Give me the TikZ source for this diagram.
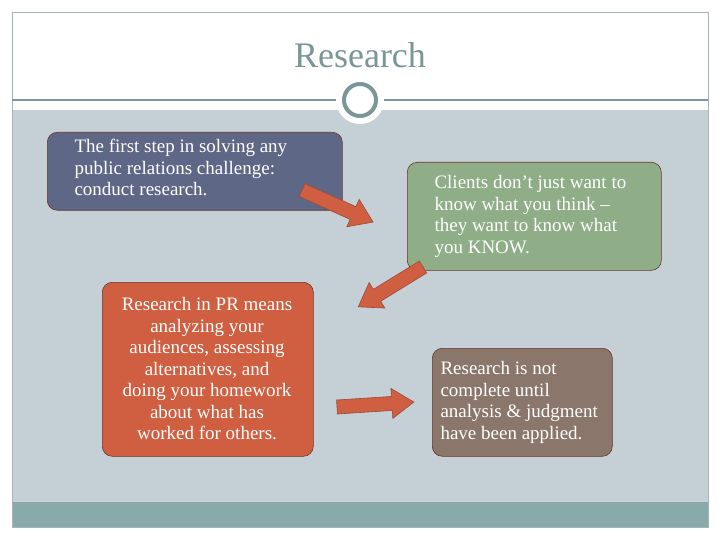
\documentclass[tikz,border=0pt]{standalone}
\usepackage{fontspec}
\setmainfont{Liberation Serif}
\definecolor{bodyc}{HTML}{C5CFD6}
\definecolor{stripc}{HTML}{8AA9AB}
\definecolor{ringc}{HTML}{7B9696}
\definecolor{bluec}{HTML}{5F6786}
\definecolor{greenc}{HTML}{8FAE88}
\definecolor{orangec}{HTML}{CF5F40}
\definecolor{brownc}{HTML}{8A766A}
\definecolor{edgec}{HTML}{9A4A3A}
\tikzset{
 box/.style={draw=edgec!70!black, line width=0.6pt, rounded corners=10pt, anchor=north west, inner sep=0pt},
 txt/.style={text=white, font=\fontsize{19}{21.5}\selectfont},
 barrow/.pic={\draw[fill=orangec, draw=edgec, line width=0.6pt] (0,-7) -- (#1-22,-7) -- (#1-22,-15) -- (#1,0) -- (#1-22,15) -- (#1-22,7) -- (0,7) -- cycle;}
}
\begin{document}
\begin{tikzpicture}[x=1pt,y=-1pt]
\useasboundingbox (0,0) rectangle (720,540);
\fill[white] (0,0) rectangle (720,540);
\fill[bodyc] (12,110) rectangle (708,502);
\fill[stripc] (12,502) rectangle (708,527);
\draw[ringc!70, line width=0.6pt] (12,12) rectangle (708,527);
\draw[ringc, line width=1.2pt] (12,100) -- (708,100);
\fill[white] (360,100) circle (24);
\draw[ringc, line width=4pt] (360,100) circle (16);
\node[text=ringc, font=\fontsize{36}{40}\selectfont] (title) at (360,55) {Research};
\node[box, fill=bluec, minimum width=295pt, minimum height=78pt] (b1) at (47,132) {};
\node[txt, anchor=north west, align=left] (t1) at (71,136) {The first step in solving any\\public relations challenge:\\conduct research.};
\node[box, fill=greenc, minimum width=254pt, minimum height=108pt] (b2) at (407,162) {};
\node[txt, anchor=north west, align=left] (t2) at (431,172) {Clients don’t just want to\\know what you think –\\they want to know what\\you KNOW.};
\node[box, fill=orangec, minimum width=211pt, minimum height=174pt] (b3) at (102,282) {};
\node[txt, align=center] (t3) at (207,369) {Research in PR means\\analyzing your\\audiences, assessing\\alternatives, and\\doing your homework\\about what has\\worked for others.};
\node[box, fill=brownc, minimum width=180pt, minimum height=108pt] (b4) at (432,348) {};
\node[txt, anchor=north west, align=left] (t4) at (437,358) {Research is not\\complete until\\analysis \& judgment\\have been applied.};
\pic[shift={(302,190)}, rotate=-24.3] {barrow=78};
\pic[shift={(423,267)}, rotate=211.6] {barrow=76};
\pic[shift={(337,407)}, rotate=3.7] {barrow=77};
\end{tikzpicture}
\end{document}
